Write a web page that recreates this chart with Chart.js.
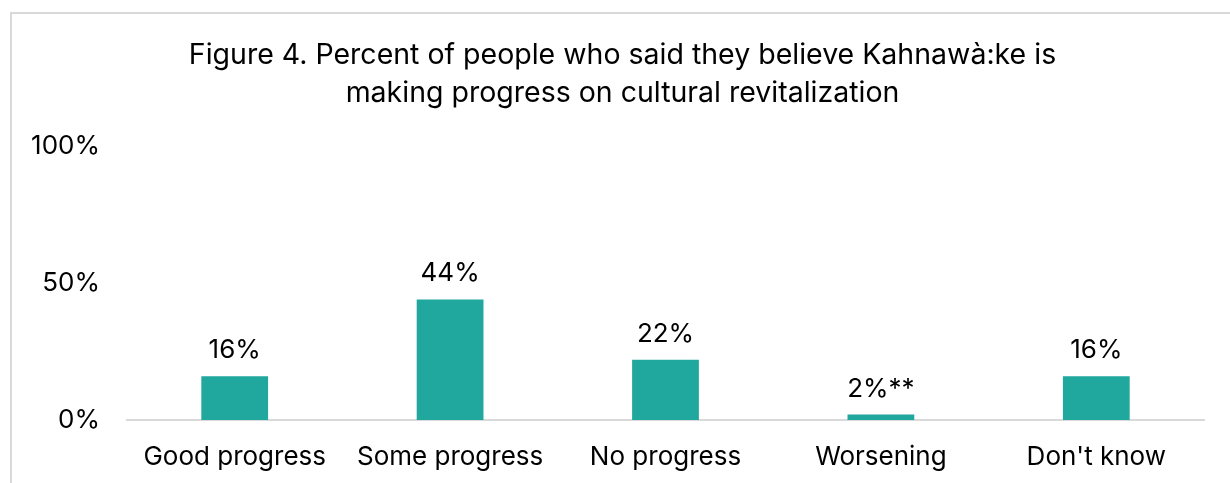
<!DOCTYPE html>
<html>
<head>
<meta charset="utf-8">
<script src="https://cdn.jsdelivr.net/npm/chart.js@4"></script>
<style>
  html, body { margin: 0; padding: 0; background: #fff; overflow: hidden; }
  #frame {
    position: absolute; left: 10px; top: 12px; width: 1400px; height: 600px;
    border-left: 2px solid #d9d9d9; border-top: 2px solid #d9d9d9;
  }
  #chart { position: absolute; left: 0; top: 0; }
</style>
</head>
<body>
<div id="frame"></div>
<canvas id="chart" width="1230" height="483"></canvas>
<script>
var categories = ['Good progress', 'Some progress', 'No progress', 'Worsening', "Don't know"];
var percents = [16, 44, 22, 2, 16];
var valueLabels = ['16%', '44%', '22%', '2%**', '16%'];
var yTicks = [0, 50, 100];
var titleLines = ['Figure 4. Percent of people who said they believe Kahnawà:ke is',
                  'making progress on cultural revitalization'];

var fontFamily = 'Inter, "Liberation Sans", Arial, sans-serif';
var teal = 'rgb(32, 167, 158)';

// writes the percent above each bar
var barLabels = {
    id: 'barLabels',
    afterDatasetsDraw: function (chart) {
        var ctx = chart.ctx;
        var meta = chart.getDatasetMeta(0);
        ctx.save();
        ctx.font = '26px ' + fontFamily;
        ctx.fillStyle = '#000';
        ctx.textAlign = 'center';
        ctx.textBaseline = 'alphabetic';
        meta.data.forEach(function (bar, i) {
            ctx.fillText(valueLabels[i], bar.x, bar.y - 18);
        });
        ctx.restore();
    }
};

// title box starts a little in from the left edge so the text sits right of centre
var titleShift = {
    id: 'titleShift',
    afterLayout: function (chart) {
        if (chart.titleBlock) chart.titleBlock.left = 41;
    }
};

var ctx = document.getElementById('chart').getContext('2d');
var chart = new Chart(ctx, {
    type: 'bar',
    data: {
        labels: categories,
        datasets: [{
            data: percents,
            backgroundColor: teal,
            borderWidth: 0,
            barPercentage: 0.31,
            categoryPercentage: 1
        }]
    },
    options: {
        responsive: false,
        animation: false,
        devicePixelRatio: 1,
        layout: { padding: { left: 0, right: 26, top: 0, bottom: 9 } },
        plugins: {
            legend: { display: false },
            tooltip: { enabled: false },
            title: {
                display: true,
                text: titleLines,
                color: '#000',
                font: { family: fontFamily, size: 28.5, weight: 'normal', lineHeight: 1.333 },
                padding: { top: 36, bottom: 34 }
            }
        },
        scales: {
            x: {
                afterFit: function (scale) { scale.height = 54; },
                grid: { display: false, drawTicks: false },
                border: { display: true, color: '#d9d9d9', width: 2 },
                ticks: { color: '#000', padding: 22, font: { family: fontFamily, size: 26 } }
            },
            y: {
                min: 0,
                max: 100,
                afterFit: function (scale) { scale.width = 127; },
                afterBuildTicks: function (scale) {
                    scale.ticks = yTicks.map(function (v) { return { value: v }; });
                },
                grid: { display: false, drawTicks: false },
                border: { display: false },
                ticks: {
                    color: '#000',
                    padding: 27,
                    font: { family: fontFamily, size: 26 },
                    callback: function (v) { return v + '%'; }
                }
            }
        }
    },
    plugins: [barLabels, titleShift]
});
</script>
</body>
</html>
